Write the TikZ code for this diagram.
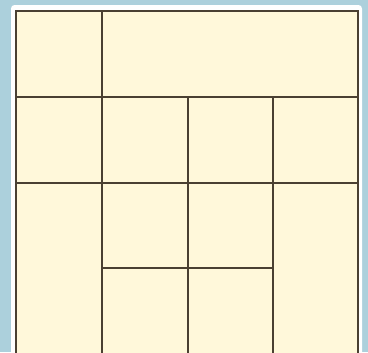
\documentclass[tikz,border=0pt]{standalone}
\usetikzlibrary{calc}
\definecolor{frameblue}{RGB}{172,208,220}
\definecolor{cellfill}{RGB}{255,248,218}
\definecolor{gridline}{RGB}{74,64,50}
\tikzset{grid/.style={draw=gridline,line width=1.6pt},cell/.style={fill=cellfill}}

\begin{document}
\begin{tikzpicture}[x=.03cm,y=-.03cm]
\useasboundingbox (0,0) rectangle (368,352);
\clip (0,0) rectangle (368,352);
\fill[frameblue] (0,0) rectangle (368,352);
\fill[white,rounded corners=3pt] (11,5) rectangle (362,370);
\fill[cell] (16,11) rectangle (358,370);
% outer frame, open at the bottom
\draw[grid] (16,370)--(16,11)--(358,11)--(358,370);
% rows
\foreach \y in {97,183}{\draw[grid](16,\y)--(358,\y);}
\draw[grid] (102,268)--(273,268);
% columns
\draw[grid] (102,11)--(102,370);
\foreach \x in {188,273}{\draw[grid](\x,97)--(\x,370);}
\end{tikzpicture}
\end{document}
